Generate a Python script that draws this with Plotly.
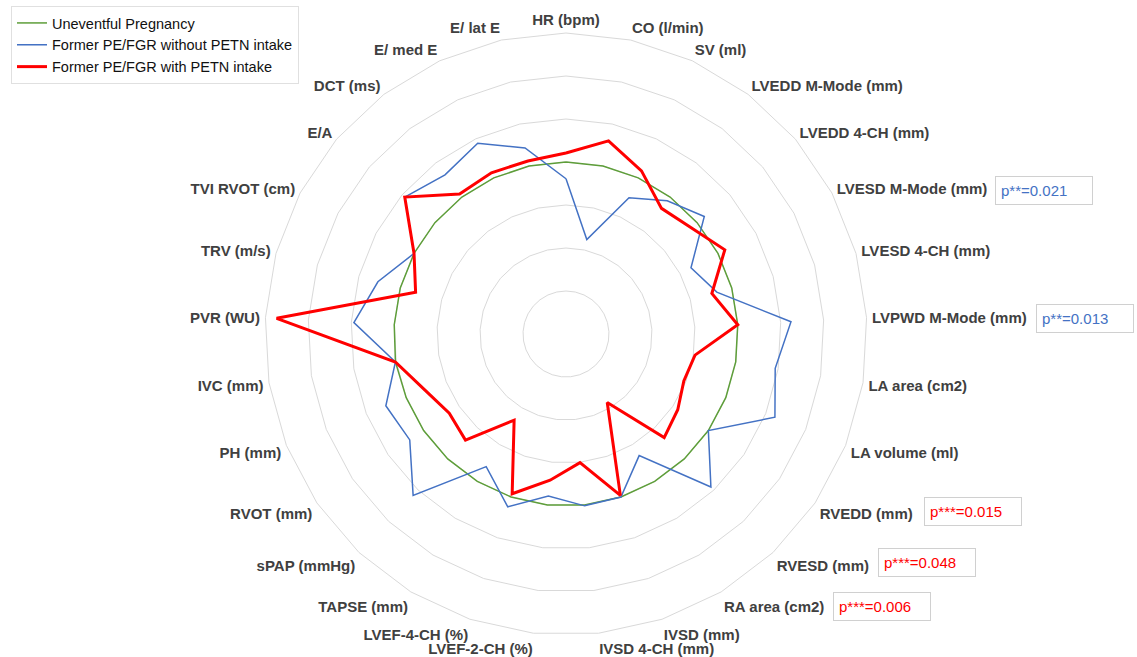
import plotly.graph_objects as go

categories = ["HR (bpm)", "CO (l/min)", "SV (ml)", "LVEDD M-Mode (mm)", "LVEDD 4-CH (mm)",
              "LVESD M-Mode (mm)", "LVESD 4-CH (mm)", "LVPWD M-Mode (mm)", "LA area (cm2)",
              "LA volume (ml)", "RVEDD (mm)", "RVESD (mm)", "RA area (cm2)", "IVSD (mm)",
              "IVSD 4-CH (mm)", "LVEF-2-CH (%)", "LVEF-4-CH (%)", "TAPSE (mm)", "sPAP (mmHg)",
              "RVOT (mm)", "PH (mm)", "IVC (mm)", "PVR (WU)", "TRV (m/s)", "TVI RVOT (cm)",
              "E/A", "DCT (ms)", "E/ med E", "E/ lat E"]

uneventful = [4.0, 4.0, 4.0, 4.0, 4.0, 4.0, 4.0, 4.0, 4.0, 4.0, 4.0, 4.0, 4.0, 4.0, 4.0,
              4.0, 4.0, 4.0, 4.0, 4.0, 4.0, 4.02, 4.0, 4.0, 4.0, 4.0, 4.0, 4.0, 4.0]

without_petn = [3.61, 2.25, 3.49, 3.89, 4.22, 3.29, 3.64, 5.24, 4.93, 5.23, 4.0, 4.9, 3.3, 4.0,
                4.02, 3.79, 4.24, 3.6, 5.17, 4.39, 4.51, 4.02, 4.94, 4.54, 4.0, 4.92, 4.65,
                4.89, 4.43]

with_petn = [4.21, 4.6, 4.18, 3.67, 3.82, 4.18, 3.52, 4.0, 3.04, 2.95, 3.14, 3.32, 1.86, 3.96,
             3.01, 3.42, 3.92, 2.34, 3.40, 3.28, 3.53, 4.02, 6.74, 3.63, 4.0, 4.92, 4.09,
             4.13, 4.12]

series_names = ["Uneventful Pregnancy", "Former PE/FGR without PETN intake",
                "Former PE/FGR with PETN intake"]
series_values = [uneventful, without_petn, with_petn]
series_colors = ["#5E9E3A", "#4472C4", "#FF0000"]
series_widths = [1.5, 1.5, 3]

p_texts = ["p**=0.021", "p**=0.013", "p***=0.015", "p***=0.048", "p***=0.006"]
p_colors = ["#4472C4", "#4472C4", "#FF0000", "#FF0000", "#FF0000"]
p_centers = [(1044, 190), (1085, 318), (973, 511), (927, 562), (882, 606)]

W, H = 1137, 657
FONT = "Liberation Sans, Arial, Helvetica, sans-serif"

fig = go.Figure()
for name, vals, col, wd in zip(series_names, series_values, series_colors, series_widths):
    fig.add_trace(go.Scatterpolar(
        r=vals + vals[:1], theta=categories + categories[:1], mode="lines",
        name=name, line=dict(color=col, width=wd)))

for txt, col, (cx, cy) in zip(p_texts, p_colors, p_centers):
    fig.add_annotation(
        xref="paper", yref="paper", x=cx / W, y=1 - cy / H, xanchor="center", yanchor="middle",
        text=txt, showarrow=False, align="left", width=86, height=17, borderpad=5,
        bordercolor="#d0d0d0", borderwidth=1, bgcolor="white",
        font=dict(family=FONT, size=15, color=col))

fig.update_layout(
    width=W, height=H,
    margin=dict(l=0, r=0, t=0, b=0),
    paper_bgcolor="white",
    plot_bgcolor="white",
    showlegend=True,
    legend=dict(x=11 / W, y=1 - 6 / H, xanchor="left", yanchor="top",
                bordercolor="#e0e0e0", borderwidth=1, bgcolor="white",
                font=dict(family=FONT, size=14.5, color="#111"),
                tracegroupgap=0, itemwidth=30),
    polar=dict(
        domain=dict(x=[265 / W, 867 / W], y=[22 / H, 624 / H]),
        bgcolor="white",
        gridshape="linear",
        radialaxis=dict(range=[0, 7], tickvals=[1, 2, 3, 4, 5, 6, 7], showticklabels=False,
                        ticks="", showline=False, gridcolor="#d9d9d9", gridwidth=1),
        angularaxis=dict(rotation=90, direction="clockwise", showgrid=False,
                         showline=True, linecolor="#d9d9d9", linewidth=1,
                         ticks="outside", ticklen=2, tickcolor="rgba(0,0,0,0)",
                         tickfont=dict(family=FONT, size=15, color="#404040", weight="bold")),
    ),
)

fig.write_html("out.html", config={"displayModeBar": False},
               post_script="document.body.style.margin='0px';")
